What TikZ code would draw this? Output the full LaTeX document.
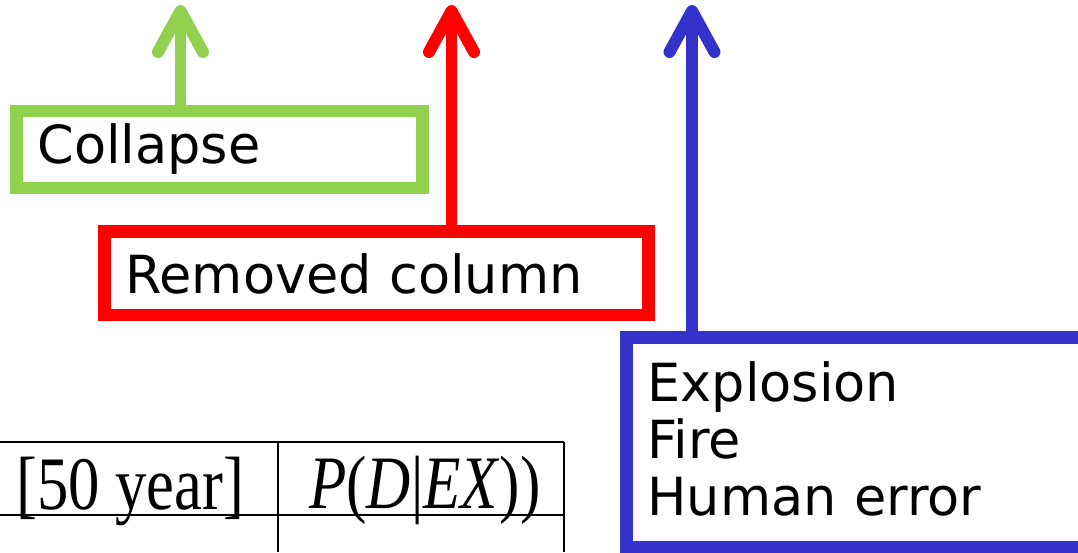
\documentclass[tikz,border=0pt]{standalone}
\usepackage{fontspec}
\newfontfamily\labelfont{DejaVu Sans}
\newfontfamily\tablefont{Liberation Serif}
\definecolor{leafgreen}{RGB}{146,208,80}
\definecolor{signalred}{RGB}{255,0,0}
\definecolor{deepblue}{RGB}{51,51,204}
\begin{document}
\begin{tikzpicture}[x=1pt,y=-1pt,
  causebox/.style={draw, line width=12.5pt, rectangle, anchor=north west,
    outer sep=0pt, inner ysep=0pt, inner xsep=21pt, align=left,
    font=\labelfont\fontsize{52.5}{57}\selectfont},
  upflow/.style={line width=11.5pt},
  barbhead/.style={line width=12pt, line cap=round, line join=round},
  rule/.style={line width=1.8pt, black},
  cell/.style={anchor=base west, inner sep=0pt,
    font=\tablefont\fontsize{64}{70}\selectfont}]
\useasboundingbox (0,0) rectangle (1078,552);
\clip (0,0) rectangle (1078,552);

% cause boxes
\node[causebox, draw=leafgreen, text width=364pt, text height=52pt, text depth=25pt]
  (collapse) at (16.5,111) {Collapse};
\node[causebox, draw=signalred, text width=502pt, text height=61.5pt, text depth=22pt]
  (removed) at (104.5,231.5) {Removed column};
\node[causebox, draw=deepblue, text width=431pt, text height=63.5pt, text depth=146pt]
  (hazards) at (626.5,337.5)
  {\begin{tabular}[t]{@{}l@{}}Explosion\\Fire\\Human error\end{tabular}};

% upward arrows: stem from the box, then a thick round barb at the tip
\coordinate (gtip) at (180.5,11);
\coordinate (rtip) at (451.5,11);
\coordinate (btip) at (692,11);
\foreach \tip/\boxname/\col in {gtip/collapse/leafgreen, rtip/removed/signalred, btip/hazards/deepblue}{
  \draw[upflow, \col] (\tip |- \boxname.north) -- (\tip);
  \draw[barbhead, \col] ([shift={(-22.5,41)}]\tip) -- (\tip) -- ([shift={(22.5,41)}]\tip);
}

% table fragment
\draw[rule] (0,442) -- (564,442) (0,515) -- (564,515)
  (278,442) -- (278,552) (564,442) -- (564,552);
\node[cell] (period) at (16,509) {\scalebox{0.98}[1.18]{[50 year]}};
\node[cell] (prob) at (309,508)
  {\scalebox{0.955}[1.18]{\textit{P}(\textit{D}|\textit{EX}))}};
\end{tikzpicture}
\end{document}
